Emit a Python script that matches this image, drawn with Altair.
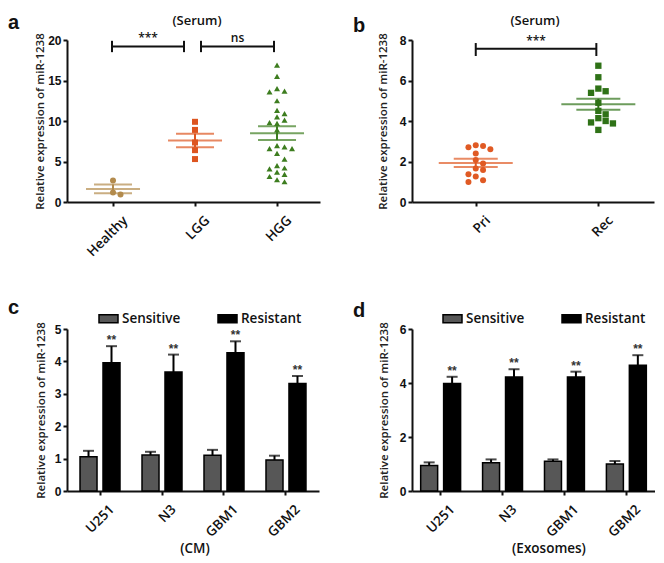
import json
import altair as alt
import pandas as pd

# ---------------- data ----------------
a_groups = ["Healthy", "LGG", "HGG"]
a_healthy = [2.65, 1.17, 0.93]
a_lgg = [9.9, 8.9, 7.35, 6.4, 5.3]
a_hgg = [16.9, 15.5, 14.0, 13.7, 13.6, 12.5, 11.3, 10.9, 10.5, 10.1, 9.8, 9.7, 8.9,
         6.95, 6.8, 6.6, 6.6, 6.0, 5.3, 4.5, 4.2, 4.1, 3.7, 3.4, 3.15, 2.75, 2.5]
a_mean = [1.62, 7.6, 8.5]
a_sem = [0.55, 0.83, 0.86]
a_colors = ["#b38b4d", "#dd5520", "#3d7d1f"]
a_shapes = ["circle", "square", "triangle-up"]
a_brackets = [("Healthy", "LGG", "***"), ("LGG", "HGG", "ns")]

b_groups = ["Pri", "Rec"]
b_pri = [2.8, 2.77, 2.7, 2.6, 2.39, 2.07, 1.9, 1.66, 1.58, 1.37, 1.26, 1.07, 0.99]
b_rec = [6.73, 6.16, 5.6, 5.47, 5.39, 4.9, 4.5, 4.33, 4.14, 4.0, 3.93, 3.88, 3.56]
b_mean = [1.93, 4.83]
b_sem = [0.2, 0.27]
b_colors = ["#e05a24", "#2f7217"]
b_shapes = ["circle", "square"]
b_brackets = [("Pri", "Rec", "***")]

cells = ["U251", "N3", "GBM1", "GBM2"]
conds = ["Sensitive", "Resistant"]
c_sens = [1.06, 1.11, 1.10, 0.96]
c_sens_err = [0.18, 0.10, 0.17, 0.13]
c_res = [3.96, 3.67, 4.27, 3.32]
c_res_err = [0.51, 0.54, 0.35, 0.23]
d_sens = [0.94, 1.05, 1.10, 1.00]
d_sens_err = [0.12, 0.12, 0.07, 0.11]
d_res = [3.98, 4.22, 4.22, 4.66]
d_res_err = [0.25, 0.29, 0.20, 0.37]
bar_colors = ["#575757", "#000000"]
c_ticks = [0, 1, 2, 3, 4, 5]
d_ticks = [0, 2, 4, 6]

YTITLE = "Relative expression of miR-1238"
OPEN = "Open Sans"
ARIAL = "Liberation Sans"


def swarm_cols(values, gap):
    placed = []
    cols = []
    for v in values:
        chosen = 0
        for c in [0, 1, -1, 2, -2]:
            if all(abs(v - pv) >= gap for pc, pv in placed if pc == c):
                chosen = c
                break
        placed.append((chosen, v))
        cols.append(chosen)
    return cols


def y_axis(values, title_x, h):
    return alt.Axis(values=values, title=YTITLE, titleX=title_x, titleY=h / 2,
                    titleAngle=270, titleAlign="center", titleBaseline="middle",
                    titleFont=OPEN, titleFontWeight=600, titleFontSize=11.5, titleColor="#222222",
                    labelFont=ARIAL, labelFontWeight="bold", labelFontSize=12, labelColor="#111111",
                    labelPadding=2, labelOverlap=False, labelFlush=False, tickSize=4, tickWidth=2,
                    tickColor="#111111", domainWidth=2, domainColor="#111111", grid=False)


def x_axis_common(**kw):
    return dict(labelFont=OPEN, labelFontWeight=600, labelFontSize=13.5, labelColor="#111111",
                labelAngle=315, labelAlign="right", labelBaseline="middle",
                labelPadding=12, labelOffset=12, labelOverlap=False, labelBound=False,
                labelFlush=False, tickSize=4, tickWidth=2, tickColor="#111111",
                domainWidth=2, domainColor="#111111", grid=False, title=None, **kw)


def text_layer(txt, x, y, size, font, weight, align="center", baseline="middle", color="#111111"):
    return alt.Chart(pd.DataFrame({"t": [txt]})).mark_text(
        font=font, fontSize=size, fontWeight=weight, align=align, baseline=baseline,
        color=color, clip=False
    ).encode(x=alt.value(x), y=alt.value(y), text="t:N")


def scatter_panel(groups, series, means, sems, colors, shapes, brackets, gap, step_px,
                  width, height, x_domain, y_domain, y_values, mean_w, sem_w,
                  br_y, br_lo, br_hi, trims, title_x, ytitle_x, letter, letter_y, size_map):
    px_per_unit = width / (x_domain[1] - x_domain[0])
    rows = []
    for gi, (g, vals) in enumerate(zip(groups, series)):
        order = sorted(vals, reverse=True)
        cols = swarm_cols(order, gap)
        for v, c in zip(order, cols):
            rows.append({"group": g, "x": gi + 1 + c * step_px / px_per_unit, "v": v})
    pts = pd.DataFrame(rows)
    ms = pd.DataFrame({"group": groups, "x": list(range(1, len(groups) + 1)), "mean": means,
                       "lo": [m - s for m, s in zip(means, sems)],
                       "hi": [m + s for m, s in zip(means, sems)]})
    brows = []
    for (g1, g2, lab), (t1, t2) in zip(brackets, trims):
        x1 = groups.index(g1) + 1 + t1 / px_per_unit
        x2 = groups.index(g2) + 1 + t2 / px_per_unit
        brows.append({"x1": x1, "x2": x2, "xm": (x1 + x2) / 2, "y": br_y, "lo": br_lo,
                      "hi": br_hi, "lab": lab})
    br = pd.DataFrame(brows)

    xs = alt.Scale(domain=x_domain, nice=False, zero=False)
    ys = alt.Scale(domain=y_domain, nice=False, zero=False)
    lab_expr = json.dumps([""] + groups) + "[datum.value]"
    xax = alt.Axis(values=list(range(1, len(groups) + 1)), labelExpr=lab_expr, **x_axis_common())
    color = alt.Color("group:N", scale=alt.Scale(domain=groups, range=colors), legend=None)

    points = alt.Chart(pts).mark_point(filled=True, opacity=1, clip=False).encode(
        x=alt.X("x:Q", scale=xs, axis=xax),
        y=alt.Y("v:Q", scale=ys, axis=y_axis(y_values, ytitle_x, height)),
        color=color,
        shape=alt.Shape("group:N", scale=alt.Scale(domain=groups, range=shapes), legend=None),
        size=alt.Size("group:N", scale=alt.Scale(domain=groups, range=size_map), legend=None),
    )
    mean_t = alt.Chart(ms).mark_tick(orient="horizontal", size=mean_w, thickness=2).encode(
        x=alt.X("x:Q", scale=xs), y=alt.Y("mean:Q", scale=ys), color=color)
    lo_t = alt.Chart(ms).mark_tick(orient="horizontal", size=sem_w, thickness=2).encode(
        x=alt.X("x:Q", scale=xs), y=alt.Y("lo:Q", scale=ys), color=color)
    hi_t = alt.Chart(ms).mark_tick(orient="horizontal", size=sem_w, thickness=2).encode(
        x=alt.X("x:Q", scale=xs), y=alt.Y("hi:Q", scale=ys), color=color)
    vline = alt.Chart(ms).mark_rule(strokeWidth=2).encode(
        x=alt.X("x:Q", scale=xs), y=alt.Y("lo:Q", scale=ys), y2="hi:Q", color=color)

    hbar = alt.Chart(br).mark_rule(strokeWidth=2, color="#111111", clip=False).encode(
        x=alt.X("x1:Q", scale=xs), x2="x2:Q", y=alt.Y("y:Q", scale=ys))
    cap1 = alt.Chart(br).mark_rule(strokeWidth=2, color="#111111", clip=False).encode(
        x=alt.X("x1:Q", scale=xs), y=alt.Y("lo:Q", scale=ys), y2="hi:Q")
    cap2 = alt.Chart(br).mark_rule(strokeWidth=2, color="#111111", clip=False).encode(
        x=alt.X("x2:Q", scale=xs), y=alt.Y("lo:Q", scale=ys), y2="hi:Q")
    blab = alt.Chart(br).mark_text(font=OPEN, fontWeight=600, fontSize=12, baseline="bottom",
                                   dy=-1, color="#111111", clip=False).encode(
        x=alt.X("xm:Q", scale=xs), y=alt.Y("y:Q", scale=ys), text="lab:N")

    ttl = text_layer("(Serum)", title_x, -19, 13, OPEN, 600)
    let = text_layer(letter, -59, letter_y, 20, ARIAL, "bold", align="left", baseline="alphabetic")
    return alt.layer(points, vline, mean_t, lo_t, hi_t, hbar, cap1, cap2, blab, ttl, let).properties(
        width=width, height=height)


def bar_panel(sens, sens_err, res, res_err, width, height, y_domain, y_values, pad_outer,
              ytitle_x, letter, letter_y, bottom_title, bottom_x, legend_x):
    rows = []
    for i, cell in enumerate(cells):
        rows.append({"cell": cell, "cond": conds[0], "v": sens[i], "top": sens[i] + sens_err[i], "star": ""})
        rows.append({"cell": cell, "cond": conds[1], "v": res[i], "top": res[i] + res_err[i], "star": "**"})
    df = pd.DataFrame(rows)
    xs = alt.Scale(domain=cells, paddingInner=0.355, paddingOuter=pad_outer)
    xo = alt.XOffset("cond:N", sort=conds, scale=alt.Scale(domain=conds, paddingInner=0.26, paddingOuter=0))
    ys = alt.Scale(domain=y_domain, nice=False, zero=True)
    yax = y_axis(y_values, ytitle_x, height)
    base = alt.Chart(df)
    bars = base.mark_bar(stroke="#000000", strokeWidth=1.5, clip=False).encode(
        x=alt.X("cell:N", sort=cells, scale=xs, axis=alt.Axis(**x_axis_common())),
        xOffset=xo,
        y=alt.Y("v:Q", scale=ys, axis=yax),
        color=alt.Color("cond:N", sort=conds,
                        scale=alt.Scale(domain=conds, range=bar_colors),
                        legend=alt.Legend(title=None, orient="none", legendX=legend_x, legendY=-21,
                                          direction="horizontal", padding=0,
                                          symbolType="M-1,-0.42L1,-0.42L1,0.42L-1,0.42Z",
                                          symbolSize=361, symbolStrokeColor="#000000",
                                          symbolStrokeWidth=1.5, symbolOpacity=1,
                                          labelFont=OPEN, labelFontWeight=600, labelFontSize=13.5,
                                          labelColor="#111111", labelOffset=3, columnPadding=34)),
    )
    err = base.mark_rule(strokeWidth=2, color="#000000").encode(
        x=alt.X("cell:N", sort=cells, scale=xs), xOffset=xo,
        y=alt.Y("v:Q", scale=ys, axis=yax), y2="top:Q")
    cap = base.mark_tick(size=11, thickness=2, color="#000000").encode(
        x=alt.X("cell:N", sort=cells, scale=xs), xOffset=xo,
        y=alt.Y("top:Q", scale=ys, axis=yax))
    stars = base.mark_text(font=ARIAL, fontSize=12, fontWeight="bold", baseline="bottom", dy=1,
                           color="#333333").encode(
        x=alt.X("cell:N", sort=cells, scale=xs), xOffset=xo,
        y=alt.Y("top:Q", scale=ys, axis=yax), text="star:N")
    let = text_layer(letter, -59, letter_y, 20, ARIAL, "bold", align="left", baseline="alphabetic")
    bt = text_layer(bottom_title, bottom_x, height + 58, 13.5, OPEN, 600)
    return alt.layer(bars, err, cap, stars, let, bt).properties(width=width, height=height)


H = 162
pa = scatter_panel(a_groups, [a_healthy, a_lgg, a_hgg], a_mean, a_sem, a_colors, a_shapes, a_brackets,
                   gap=0.75, step_px=7.5, width=253, height=H, x_domain=[0.439, 3.524],
                   y_domain=[0, 20], y_values=[0, 5, 10, 15, 20], mean_w=54, sem_w=38,
                   br_y=19.2, br_lo=18.5, br_hi=19.9, trims=[(-1, -11), (6, -3)],
                   title_x=130, ytitle_x=-27, letter="a", letter_y=-11, size_map=[36, 36, 45])
pb = scatter_panel(b_groups, [b_pri, b_rec], b_mean, b_sem, b_colors, b_shapes, b_brackets,
                   gap=0.3, step_px=7.3, width=242, height=H, x_domain=[0.480, 2.454],
                   y_domain=[0, 8], y_values=[0, 2, 4, 6, 8], mean_w=74, sem_w=44,
                   br_y=7.57, br_lo=7.21, br_hi=7.85, trims=[(0, -2)],
                   title_x=123, ytitle_x=-29, letter="b", letter_y=-8, size_map=[36, 40])
pc = bar_panel(c_sens, c_sens_err, c_res, c_res_err, width=252, height=H, y_domain=[0, 5],
               y_values=c_ticks, pad_outer=0.21, ytitle_x=-26, letter="c", letter_y=-15,
               bottom_title="(CM)", bottom_x=128, legend_x=31)
pd_ = bar_panel(d_sens, d_sens_err, d_res, d_res_err, width=243, height=H, y_domain=[0, 6],
                y_values=d_ticks, pad_outer=0.14, ytitle_x=-28, letter="d", letter_y=-12,
                bottom_title="(Exosomes)", bottom_x=137, legend_x=30)

chart = alt.concat(pa, pb, pc, pd_, columns=2, bounds="flush",
                   spacing={"row": 127, "column": 92}).resolve_scale(
    x="independent", y="independent", xOffset="independent",
    color="independent", shape="independent", size="independent").resolve_axis(
    x="independent", y="independent").resolve_legend(
    color="independent").properties(
    padding={"top": 5, "left": 0, "right": 0, "bottom": 0}, background="white").configure_view(
    strokeWidth=0)

chart.save("out.html", embed_options={"renderer": "svg", "actions": False})
